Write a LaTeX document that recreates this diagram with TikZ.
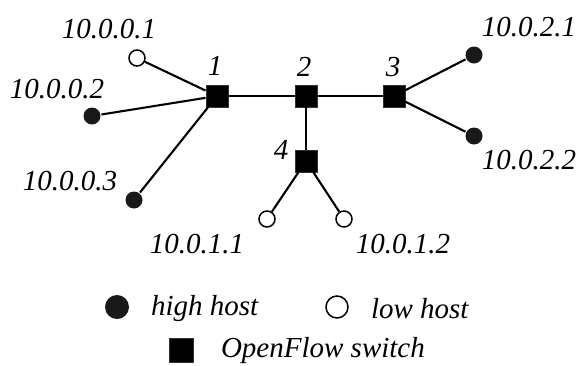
\documentclass[tikz,border=0pt]{standalone}
\usepackage{fontspec}
\setmainfont{Liberation Serif}
\begin{document}
\begin{tikzpicture}[x=1pt,y=-1pt,line width=2.1pt,
  sw/.style={draw=black!80,fill=black,line width=0.9pt,minimum size=22pt,inner sep=0pt},
  high/.style={circle,fill=black!90,minimum size=17pt,inner sep=0pt},
  low/.style={circle,draw,fill=white,line width=1.5pt,minimum size=16pt,inner sep=0pt},
  lbl/.style={font=\fontsize{29}{33}\selectfont\itshape,inner sep=0pt}]
\useasboundingbox (0,0) rectangle (578,365);
% switches
\node[sw] (s1) at (217,96) {};
\node[sw] (s2) at (306,96) {};
\node[sw] (s3) at (394,96) {};
\node[sw] (s4) at (306,161) {};
\node[lbl] at (215,66) {1};
\node[lbl] at (304,67) {2};
\node[lbl] at (393,67) {3};
\node[lbl] at (281,150) {4};
% hosts
\node[low] (h1) at (137,58) {};
\node[high] (h2) at (92,116) {};
\node[high] (h3) at (134,200) {};
\node[low] (h4) at (267,219) {};
\node[low] (h5) at (344,219) {};
\node[high] (h6) at (474,55) {};
\node[high] (h7) at (474,136) {};
\node[lbl] at (109,29) {10.0.0.1};
\node[lbl] at (57,89) {10.0.0.2};
\node[lbl] at (70,181) {10.0.0.3};
\node[lbl] at (197,244) {10.0.1.1};
\node[lbl] at (403,244) {10.0.1.2};
\node[lbl] at (529,27) {10.0.2.1};
\node[lbl] at (529,160) {10.0.2.2};
% links
\draw (s1) -- (s2) -- (s3);
\draw (s2) -- (s4);
\draw (s1) -- (h1);
\draw (s1) -- (h2);
\draw (s1) -- (h3);
\draw (s4) -- (h4);
\draw (s4) -- (h5);
\draw (s3) -- (h6);
\draw (s3) -- (h7);
% legend
\node[high,minimum size=24pt] (kh) at (117,307) {};
\node[lbl,anchor=west] at (150,309) {high host};
\node[low,minimum size=22pt] (kl) at (337,307) {};
\node[lbl,anchor=west] at (370,309) {low host};
\node[sw,minimum size=24pt] (ks) at (181,350) {};
\node[lbl,anchor=west] at (220,351) {OpenFlow switch};
\end{tikzpicture}
\end{document}
